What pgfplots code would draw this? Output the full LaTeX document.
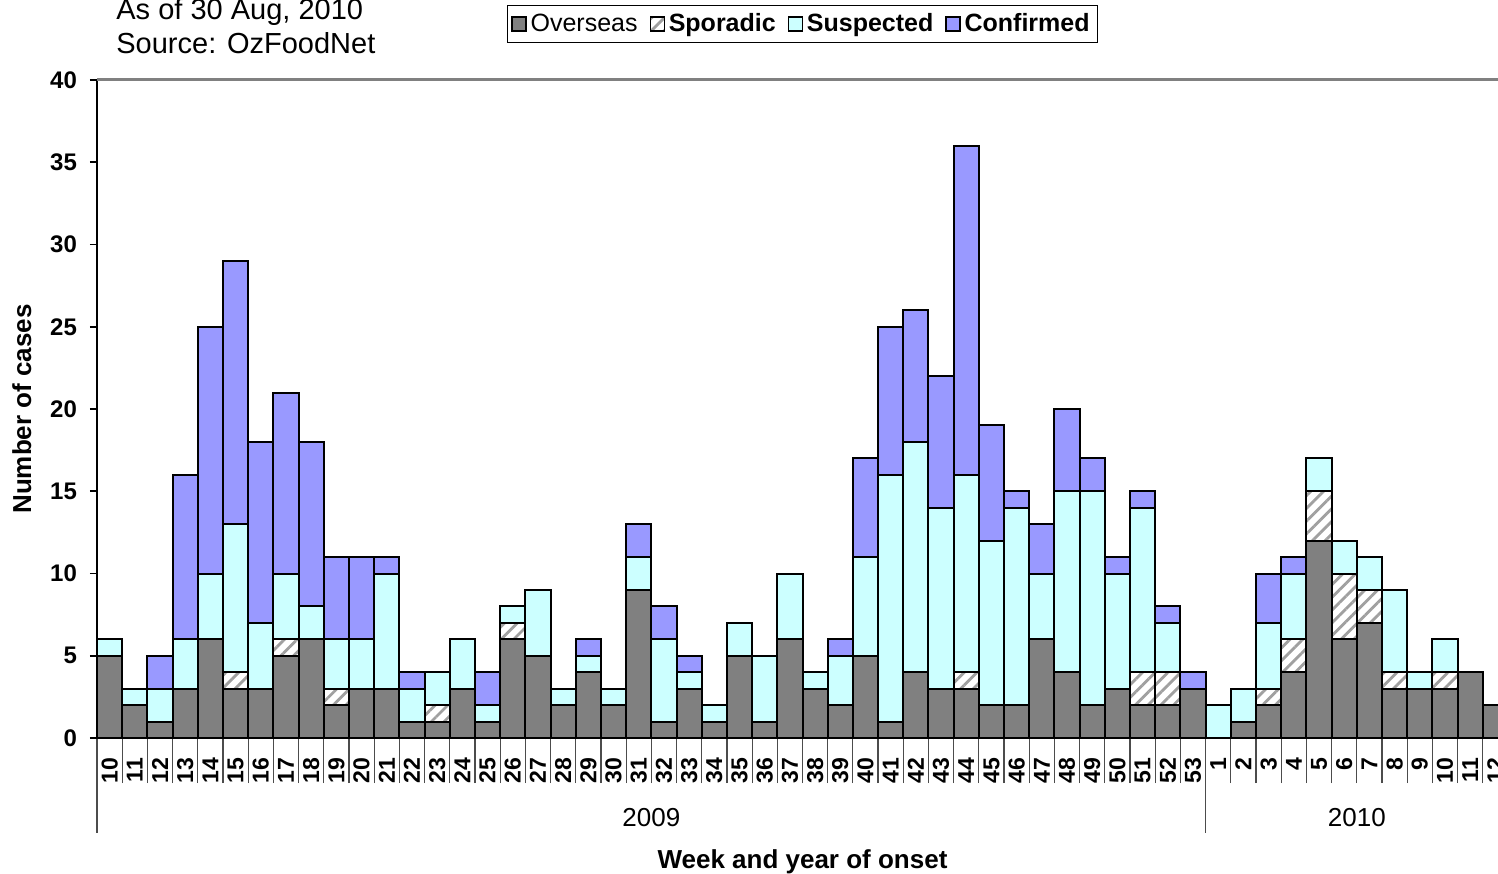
\documentclass[border=0pt]{standalone}
\usepackage{pgfplots}
\pgfplotsset{compat=1.18}
\usepackage{pgfplotstable}
\usepackage{fontspec}
\setmainfont{Liberation Sans}
\usetikzlibrary{patterns.meta}

\definecolor{overseas}{HTML}{808080}
\definecolor{suspected}{HTML}{CCFFFF}
\definecolor{confirmed}{HTML}{9999FF}
\definecolor{hatch}{HTML}{A0A0A0}

% x = bar centre; O = Overseas, Sp = Sporadic, Su = Suspected, C = Confirmed
\pgfplotstableread{
x O Sp Su C
0.5 5 0 1 0
1.5 2 0 1 0
2.5 1 0 2 2
3.5 3 0 3 10
4.5 6 0 4 15
5.5 3 1 9 16
6.5 3 0 4 11
7.5 5 1 4 11
8.5 6 0 2 10
9.5 2 1 3 5
10.5 3 0 3 5
11.5 3 0 7 1
12.5 1 0 2 1
13.5 1 1 2 0
14.5 3 0 3 0
15.5 1 0 1 2
16.5 6 1 1 0
17.5 5 0 4 0
18.5 2 0 1 0
19.5 4 0 1 1
20.5 2 0 1 0
21.5 9 0 2 2
22.5 1 0 5 2
23.5 3 0 1 1
24.5 1 0 1 0
25.5 5 0 2 0
26.5 1 0 4 0
27.5 6 0 4 0
28.5 3 0 1 0
29.5 2 0 3 1
30.5 5 0 6 6
31.5 1 0 15 9
32.5 4 0 14 8
33.5 3 0 11 8
34.5 3 1 12 20
35.5 2 0 10 7
36.5 2 0 12 1
37.5 6 0 4 3
38.5 4 0 11 5
39.5 2 0 13 2
40.5 3 0 7 1
41.5 2 2 10 1
42.5 2 2 3 1
43.5 3 0 0 1
44.5 0 0 2 0
45.5 1 0 2 0
46.5 2 1 4 3
47.5 4 2 4 1
48.5 12 3 2 0
49.5 6 4 2 0
50.5 7 2 2 0
51.5 3 1 5 0
52.5 3 0 1 0
53.5 3 1 2 0
54.5 4 0 0 0
55.5 2 0 0 0
}\data

\begin{document}
\begin{tikzpicture}
\path[use as bounding box] (0,0) rectangle (749pt,436.5pt);
\clip (0,0) rectangle (749pt,436.5pt);
\node[anchor=base west, font=\fontsize{14.5}{16}\selectfont, inner sep=0pt] at (58pt,426.5pt) {As of 30 Aug, 2010};
\node[anchor=base west, font=\fontsize{14.5}{16}\selectfont, inner sep=0pt] at (58pt,409.5pt) {Source: OzFoodNet};
\begin{axis}[
  at={(48.5pt,67.5pt)}, anchor=south west,
  scale only axis, width=705.5pt, height=329pt,
  xmin=0, xmax=56, ymin=0, ymax=40,
  ybar stacked, bar width=1,
  clip=false,
  axis x line*=bottom, axis y line*=left,
  axis line style={-, line width=1pt, black},
  tick align=outside,
  major tick length=3.5pt,
  minor tick length=22.5pt,
  every major tick/.append style={black, line width=0.8pt},
  every minor tick/.append style={black!70, line width=0.6pt},
  every major x tick/.append style={draw=none},
  ytick={0,5,...,40},
  /pgf/number format/assume math mode=true,
  yticklabel style={font=\bfseries\fontsize{12}{14}\selectfont},
  yticklabel shift=3pt,
  xtick={0.5,1.5,...,55.5},
  xticklabels={10,11,12,13,14,15,16,17,18,19,20,21,22,23,24,25,26,27,28,29,30,31,32,33,34,35,36,37,38,39,40,41,42,43,44,45,46,47,48,49,50,51,52,53,1,2,3,4,5,6,7,8,9,10,11,12},
  minor xtick={0,1,...,56},
  xticklabel style={font=\bfseries\fontsize{11.5}{12}\selectfont, rotate=90, anchor=east},
  xticklabel shift=3pt,
  xlabel={Week and year of onset},
  xlabel style={at={(axis description cs:0.5,-0.1976)}, anchor=base, font=\bfseries\fontsize{13}{15}\selectfont},
  ylabel={Number of cases},
  ylabel style={at={(axis description cs:-0.0532,0.5)}, anchor=center, font=\bfseries\fontsize{13}{15}\selectfont},
  legend image code/.code={\draw[#1, line width=0.6pt] (0pt,-3.5pt) rectangle (7pt,3.5pt);},
  legend style={at={(0.5,1.085)}, anchor=center, legend columns=-1, draw=black, line width=0.8pt,
    font=\fontsize{12.5}{14}\selectfont, inner sep=2pt,
    /tikz/every even column/.append style={column sep=4pt}},
]
\addplot[fill=overseas, draw=black, line width=1pt] table[x=x, y=O]{\data};
\addplot[draw=black, line width=1pt, pattern={Lines[angle=45,distance=4.5pt,line width=1.4pt]}, pattern color=hatch] table[x=x, y=Sp]{\data};
\addplot[fill=suspected, draw=black, line width=1pt] table[x=x, y=Su]{\data};
\addplot[fill=confirmed, draw=black, line width=1pt] table[x=x, y=C]{\data};
\legend{Overseas, \textbf{Sporadic}, \textbf{Suspected}, \textbf{Confirmed}}
\draw[black!70, line width=0.6pt] (axis cs:0,0) -- ++(0,-47.5pt);
\draw[black!70, line width=0.6pt] (axis cs:44,0) -- ++(0,-47.5pt);
\draw[gray, line width=1.5pt] (axis cs:0,40) -- (axis cs:56,40);
\node[font=\fontsize{13}{15}\selectfont, yshift=-40pt] at (axis cs:22,0) {2009};
\node[font=\fontsize{13}{15}\selectfont, yshift=-40pt] at (axis cs:50,0) {2010};
\end{axis}
\end{tikzpicture}
\end{document}
